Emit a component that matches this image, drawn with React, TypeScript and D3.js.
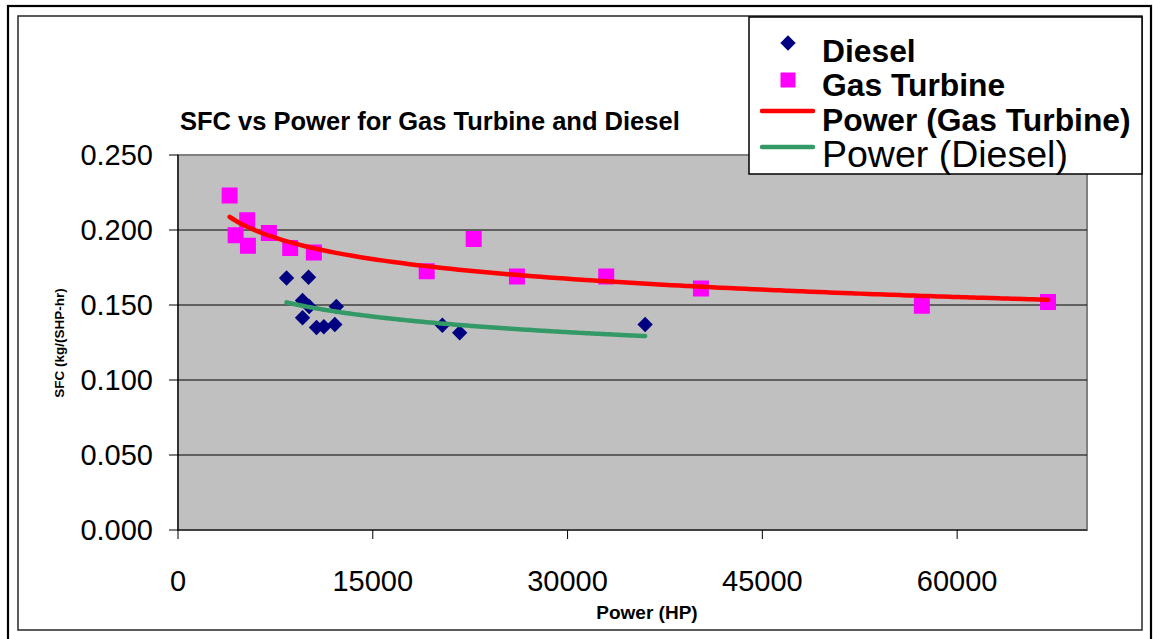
import React from 'react';
import * as d3 from 'd3';

// ---- data ----
const dieselPower = [8359, 10051, 9590, 10103, 12192, 9590, 10667, 11231, 12077, 20359, 21692, 35974];
const dieselSFC = [0.168, 0.1685, 0.153, 0.149, 0.149, 0.1415, 0.135, 0.1355, 0.137, 0.1365, 0.1315, 0.137];
const gasPower = [3977, 5331, 4438, 5385, 7000, 8641, 10462, 19154, 22769, 26100, 32977, 40269, 57284, 67000];
const gasSFC = [0.223, 0.2065, 0.1965, 0.1895, 0.198, 0.188, 0.185, 0.1725, 0.194, 0.169, 0.169, 0.161, 0.1495, 0.152];
const yTicks = [0, 0.05, 0.1, 0.15, 0.2, 0.25];
const xTicks = [0, 15000, 30000, 45000, 60000];
const legendItems = ['Diesel', 'Gas Turbine', 'Power (Gas Turbine)', 'Power (Diesel)'];
const title = 'SFC vs Power for Gas Turbine and Diesel';
const xTitle = 'Power (HP)';
const yTitle = 'SFC (kg/(SHP-hr)';

const FONT = '"Liberation Sans", Arial, sans-serif';
const W = 1153, H = 639;
const plot = { left: 178, right: 1087, top: 155, bottom: 530 };

// Excel-style power trendline: least squares of ln(y) on ln(x)
function powerFit(xs: number[], ys: number[]) {
  const lx = xs.map(Math.log), ly = ys.map(Math.log);
  const mx = d3.mean(lx)!, my = d3.mean(ly)!;
  let sxy = 0, sxx = 0;
  lx.forEach((v, i) => { sxy += (v - mx) * (ly[i] - my); sxx += (v - mx) * (v - mx); });
  const b = sxy / sxx;
  const a = Math.exp(my - b * mx);
  return (x: number) => a * Math.pow(x, b);
}

export default function App() {
  const x = d3.scaleLinear().domain([0, 70000]).range([plot.left, plot.right]);
  const y = d3.scaleLinear().domain([0, 0.25]).range([plot.bottom, plot.top]);

  const trend = (xs: number[], ys: number[]) => {
    const f = powerFit(xs, ys);
    const [lo, hi] = d3.extent(xs) as [number, number];
    const pts = d3.range(0, 101).map(i => lo + (hi - lo) * i / 100);
    return d3.line<number>().x(v => x(v)).y(v => y(f(v))).curve(d3.curveMonotoneX)(pts)!;
  };

  const diamond = d3.symbol(d3.symbolSquare, 118)()!;
  const square = d3.symbol(d3.symbolSquare, 256)()!;

  const legX = 749, legY = 17;
  const rowBase = [62, 96, 131, 167];
  const markerY = [43, 80, 111, 147];

  return (
    <svg width={W} height={H} style={{ position: 'absolute', left: 0, top: 0, fontFamily: FONT }}>
      <rect x={0} y={0} width={W} height={H} fill="#fff" />
      {/* outer frame */}
      <rect x={8} y={6} width={1143} height={700} fill="#fff" stroke="#000" strokeWidth={2.2} />
      {/* inner frame */}
      <rect x={18} y={16} width={1124} height={614} fill="#fff" stroke="#333" strokeWidth={1.6} />

      {/* title */}
      <text x={180} y={130} fontSize={25.5} fontWeight="bold" fill="#000">{title}</text>

      {/* plot area */}
      <rect x={plot.left} y={plot.top} width={plot.right - plot.left} height={plot.bottom - plot.top}
        fill="#C0C0C0" stroke="#808080" strokeWidth={2} />
      {yTicks.filter(t => t > 0 && t < 0.25).map(t => (
        <line key={t} x1={plot.left} x2={plot.right} y1={y(t)} y2={y(t)} stroke="#000" strokeWidth={1} />
      ))}
      {/* axes */}
      <line x1={plot.left} x2={plot.left} y1={plot.top} y2={plot.bottom} stroke="#000" strokeWidth={1.2} />
      <line x1={plot.left} x2={plot.right} y1={plot.bottom} y2={plot.bottom} stroke="#000" strokeWidth={1.2} />
      {yTicks.map(t => (
        <g key={t}>
          <line x1={plot.left - 9} x2={plot.left} y1={y(t)} y2={y(t)} stroke="#000" strokeWidth={1} />
          <text x={153} y={y(t)} dy="0.36em" textAnchor="end" fontSize={29} fill="#000">{d3.format('.3f')(t)}</text>
        </g>
      ))}
      {xTicks.map(t => (
        <g key={t}>
          <line x1={x(t)} x2={x(t)} y1={plot.bottom} y2={plot.bottom + 9} stroke="#000" strokeWidth={1} />
          <text x={x(t)} y={591} textAnchor="middle" fontSize={29} fill="#000">{t}</text>
        </g>
      ))}
      <text x={647} y={619} textAnchor="middle" fontSize={19} fontWeight="bold" fill="#000">{xTitle}</text>
      <text transform={`translate(64,343) rotate(-90)`} textAnchor="middle" fontSize={13.5} fontWeight="bold" fill="#000">{yTitle}</text>

      {/* points */}
      {gasPower.map((p, i) => (
        <path key={'g' + i} d={square} transform={`translate(${x(p)},${y(gasSFC[i])})`} fill="#FF00FF" />
      ))}
      {dieselPower.map((p, i) => (
        <path key={'d' + i} d={diamond} transform={`translate(${x(p)},${y(dieselSFC[i])}) rotate(45)`} fill="#000080" />
      ))}
      {/* trendlines */}
      <path d={trend(gasPower, gasSFC)} fill="none" stroke="#FF0000" strokeWidth={4.5} strokeLinecap="round" />
      <path d={trend(dieselPower, dieselSFC)} fill="none" stroke="#339966" strokeWidth={4.5} strokeLinecap="round" />

      {/* legend */}
      <rect x={legX} y={legY} width={1142 - legX} height={174 - legY} fill="#fff" stroke="#000" strokeWidth={1.5} />
      <path d={diamond} transform={`translate(788,${markerY[0]}) rotate(45)`} fill="#000080" />
      <path d={d3.symbol(d3.symbolSquare, 225)()!} transform={`translate(788,${markerY[1]})`} fill="#FF00FF" />
      <line x1={762} x2={813} y1={markerY[2]} y2={markerY[2]} stroke="#FF0000" strokeWidth={4.5} strokeLinecap="round" />
      <line x1={762} x2={813} y1={markerY[3]} y2={markerY[3]} stroke="#339966" strokeWidth={4.5} strokeLinecap="round" />
      {legendItems.map((s, i) => (
        <text key={s} x={822} y={rowBase[i]} fontSize={i === 3 ? 37.5 : 31.8} fontWeight={i === 3 ? 'normal' : 'bold'} fill="#000">{s}</text>
      ))}
    </svg>
  );
}
